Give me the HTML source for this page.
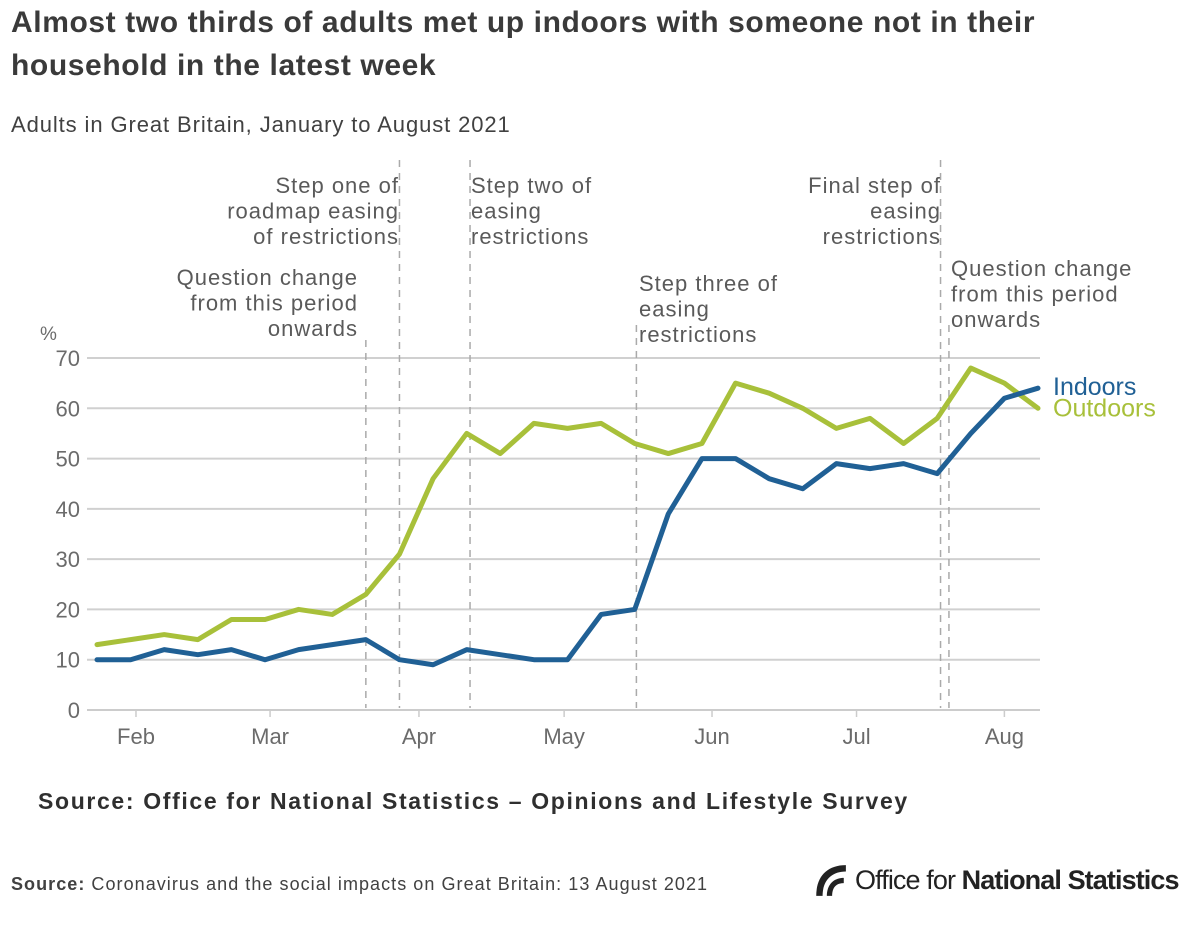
<!DOCTYPE html>
<html><head><meta charset="utf-8"><style>
body{margin:0;background:#fff;width:1200px;height:927px;overflow:hidden;font-family:"Liberation Sans",sans-serif}
.t{position:absolute;left:11px;top:1px;font-size:30px;font-weight:bold;color:#3a3a3a;line-height:43px;width:1100px;letter-spacing:0.6px}
.s{position:absolute;left:11px;top:112px;font-size:22px;color:#414141;letter-spacing:0.9px}
svg{position:absolute;left:0;top:0}
.src{position:absolute;left:38px;top:788px;font-size:23px;font-weight:bold;color:#2f2f2f;letter-spacing:1.65px}
.ft{position:absolute;left:11px;top:874px;font-size:18px;color:#414141;letter-spacing:1.05px}
.logo{position:absolute;left:855px;top:865px;font-size:27px;color:#222;letter-spacing:-0.9px;white-space:nowrap}
</style></head><body>
<div class="t">Almost two thirds of adults met up indoors with someone not in their household in the latest week</div>
<div class="s">Adults in Great Britain, January to August 2021</div>
<svg id="c" width="1200" height="927"></svg>
<div class="src">Source: Office for National Statistics – Opinions and Lifestyle Survey</div>
<div class="ft"><b>Source:</b> Coronavirus and the social impacts on Great Britain: 13 August 2021</div>
<svg width="36" height="36" viewBox="0 0 34 34" style="left:812px;top:862px"><path d="M4 32 C4 14 14 3 32 3 L32 9 C18 9 10 18 10 32Z M14 32 C14 22 20 15 30 15 L30 20 C22 20 19 25 19 32Z" fill="#222"/></svg>
<div class="logo">Office for <b>National Statistics</b></div>
<script>
const indoors=[10,10,12,11,12,10,12,13,14,10,9,12,11,10,10,19,20,39,50,50,46,44,49,48,49,47,55,62,64];
const outdoors=[13,14,15,14,18,18,20,19,23,31,46,55,51,57,56,57,53,51,53,65,63,60,56,58,53,58,68,65,60];
const yTicks=[0,10,20,30,40,50,60,70];
const months=["Feb","Mar","Apr","May","Jun","Jul","Aug"];
const monthIdx=[1.16,5.15,9.58,13.9,18.3,22.6,27.0];
const markerIdx=[8,9,11.1,16.05,25.1,25.35];
const NS="http://www.w3.org/2000/svg",svg=document.getElementById('c');
const x=i=>97+i*(1038-97)/28, y=v=>710-v*(352/70);
function el(t,a,p){const e=document.createElementNS(NS,t);for(const k in a)e.setAttribute(k,a[k]);(p||svg).appendChild(e);return e;}
yTicks.forEach(v=>{const l=el('line',{x1:87,x2:1040,y1:y(v),y2:y(v),stroke:v==0?'#ccc':'#d0d0d0','stroke-width':2});


const t=el('text',{x:80,y:y(v)+8,'text-anchor':'end','font-size':22,fill:'#6b6b6b'});t.textContent=v;

});
const pc=el('text',{x:40,y:340,'font-size':19,fill:'#6b6b6b'});pc.textContent='%';


months.forEach((m,k)=>{const xx=x(monthIdx[k]);el('line',{x1:xx,x2:xx,y1:711,y2:717,stroke:'#ccc','stroke-width':1.5});
const t=el('text',{x:xx,y:744,'text-anchor':'middle','font-size':22,fill:'#6b6b6b'});t.textContent=m;

});
const tops=[340,160,160,325,160,325];
markerIdx.forEach((m,k)=>{const l=el('line',{x1:x(m),x2:x(m),y1:tops[k],y2:708,stroke:'#aaa','stroke-width':1.5,'stroke-dasharray':'7,6'});

});
const ann=[[358,'end',["Question change","from this period","onwards"],285],[399,'end',["Step one of","roadmap easing","of restrictions"],193],[471,'start',["Step two of","easing","restrictions"],193],[639,'start',["Step three of","easing","restrictions"],291],[941,'end',["Final step of","easing","restrictions"],193],[951,'start',["Question change","from this period","onwards"],276]];
ann.forEach(a=>{const t=el('text',{x:a[0],y:a[3],'text-anchor':a[1],'font-size':22,'letter-spacing':1,fill:'#5a5a5a'});


a[2].forEach((s,i)=>{const ts=el('tspan',{x:a[0],dy:i?25.5:0},t);ts.textContent=s;});});
function line(d,c,n){const p=el('polyline',{points:d.map((v,i)=>x(i)+','+y(v)).join(' '),fill:'none',stroke:c,'stroke-width':5,'stroke-linejoin':'round','stroke-linecap':'round'});

}
line(outdoors,'#a8c03a','outdoors-line');line(indoors,'#206095','indoors-line');
const l1=el('text',{x:1053,y:y(indoors[28])+7,'font-size':25,fill:'#206095'});l1.textContent='Indoors';


const l2=el('text',{x:1053,y:y(outdoors[28])+8,'font-size':25,fill:'#a8c03a'});l2.textContent='Outdoors';


</script>
</body></html>
